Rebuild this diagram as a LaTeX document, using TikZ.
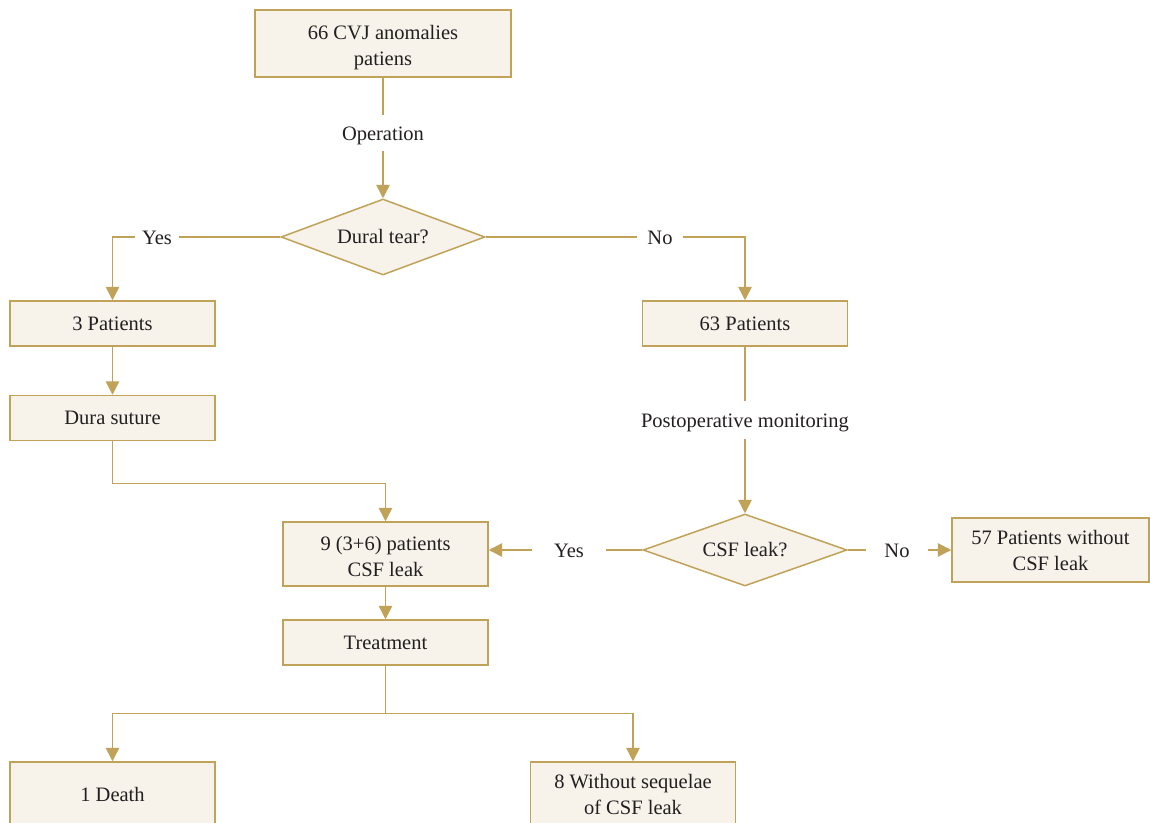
\documentclass[tikz,border=0pt]{standalone}
\usepackage{fontspec}
\setmainfont{Liberation Serif}
\usetikzlibrary{shapes.geometric,arrows.meta}
\definecolor{gold}{RGB}{192,162,88}
\definecolor{boxfill}{RGB}{247,243,235}
\definecolor{ink}{RGB}{35,31,32}

\begin{document}
\begin{tikzpicture}[x=0.6pt,y=-0.6pt,
	box/.style={draw=gold,fill=boxfill,line width=0.9pt,align=center,inner sep=0pt,minimum width=123pt,minimum height=27pt,text=ink},
	tall/.style={box,minimum height=38.4pt},
	ask/.style={diamond,draw=gold,fill=boxfill,line width=0.9pt,inner sep=0pt,shape aspect=2.7,minimum width=122.4pt,text=ink},
	lbl/.style={text=ink,inner xsep=5pt,inner ysep=5.8pt,text height=0.9em,text depth=0.05em},
	conn/.style={draw=gold,line width=0.9pt},
	arr/.style={conn,-{Triangle[length=8pt,width=8pt]}},
	font=\fontsize{12.3}{15.6}\selectfont]
	\useasboundingbox (0,0) rectangle (1150,823);

	\node[box,minimum width=153.6pt,minimum height=40.2pt] (start) at (383,43.5) {\rule{0pt}{1.1em}66 CVJ anomalies\\patiens};
	\node[lbl] (op) at (383,133) {Operation};
	\node[ask,minimum height=45.6pt] (dural) at (383,237) {Dural tear?};
	\node[lbl,inner xsep=4pt] (yes1) at (157,237) {Yes};
	\node[lbl,inner xsep=6pt] (no1) at (660,237) {No};

	\node[box] (three) at (112.5,323.5) {3 Patients};
	\node[box] (suture) at (112.5,418) {Dura suture};
	\node[box] (sixtythree) at (745,323.5) {63 Patients};
	\node[lbl,inner ysep=6.6pt] (monitor) at (745,420) {Postoperative monitoring};

	\node[ask,minimum height=43.2pt] (leak) at (745,550) {CSF leak?};
	\node[lbl,inner xsep=13pt] (yes2) at (569,550) {Yes};
	\node[lbl,inner xsep=11pt] (no2) at (897,550) {No};
	\node[tall] (nine) at (385.5,554) {\rule{0pt}{0.9em}9 (3+6) patients\\CSF leak};
	\node[tall,minimum width=118.2pt] (fiftyseven) at (1050.5,550) {57 Patients without\\CSF leak};

	\node[box] (treat) at (385.5,642.5) {Treatment};
	\node[tall] (death) at (112.5,794) {1 Death};
	\node[tall] (sequelae) at (633,794) {8 Without sequelae\\of CSF leak};

	\draw[conn] (start) -- (op);
	\draw[arr] (op) -- (dural);
	\draw[conn] (dural) -- (yes1);
	\draw[arr] (yes1) -| (three);
	\draw[conn] (dural) -- (no1);
	\draw[arr] (no1) -| (sixtythree);
	\draw[arr] (three) -- (suture);
	\draw[arr] (suture.south) -- ++(0,42) -| (nine.north);

	\draw[conn] (sixtythree) -- (monitor);
	\draw[arr] (monitor) -- (leak);
	\draw[conn] (leak) -- (yes2);
	\draw[arr] (yes2) -- (yes2 -| nine.east);
	\draw[conn] (leak) -- (no2);
	\draw[arr] (no2) -- (no2 -| fiftyseven.west);

	\draw[arr] (nine) -- (treat);
	\draw[conn] (treat.south) -- ++(0,47.5) coordinate (split);
	\draw[arr] (split) -| (death);
	\draw[arr] (split) -| (sequelae);

\end{tikzpicture}
\end{document}
